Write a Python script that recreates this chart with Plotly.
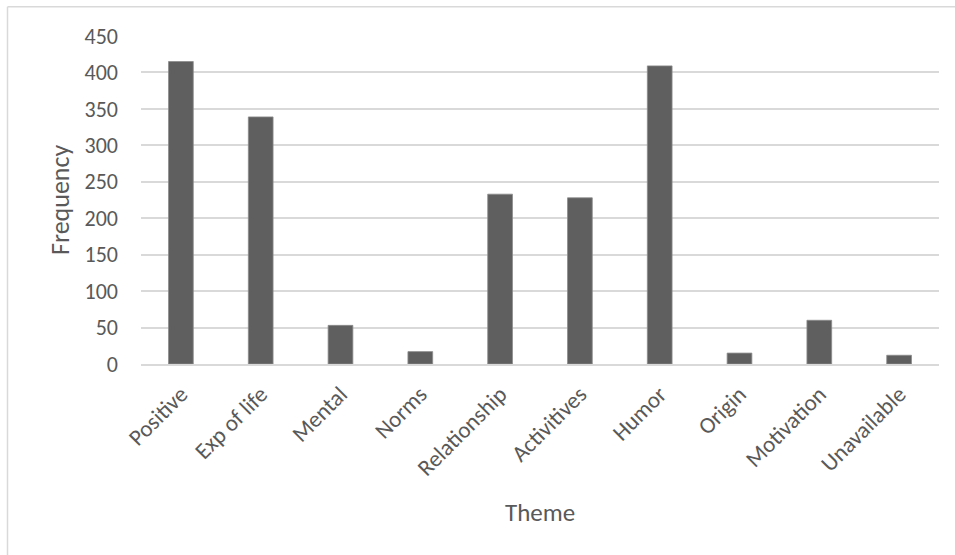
import plotly.graph_objects as go

categories = ["Positive", "Exp of life", "Mental", "Norms", "Relationship",
              "Activitives", "Humor", "Origin", "Motivation", "Unavailable"]
frequency = [415, 339, 53, 17, 233, 228, 409, 15, 60, 12]
y_ticks = [0, 50, 100, 150, 200, 250, 300, 350, 400, 450]

FONT = "Calibri, Carlito, Lato, sans-serif"
TXT = "#595959"
GRID = "#d9d9d9"

W, H = 955, 555
L, R, T, B = 141, 16, 35.7, 190.7
pw, ph = W - L - R, H - T - B

def px(x):
    return (x - L) / pw

def py(y):
    return (H - B - y) / ph

fig = go.Figure(go.Bar(
    x=categories, y=frequency,
    marker=dict(color="#5f5f5f", line=dict(color="#8c8c8c", width=0.8)),
))

fig.update_layout(
    width=W, height=H,
    margin=dict(l=L, r=R, t=T, b=B, autoexpand=False),
    paper_bgcolor="white", plot_bgcolor="white",
    bargap=0.69, showlegend=False,
    font=dict(family=FONT, color=TXT, size=22),
)
fig.update_yaxes(
    range=[0, 450], tickvals=y_ticks, showgrid=True, gridcolor=GRID, gridwidth=1.5,
    zeroline=False, showline=False, ticks="", ticklabelstandoff=22,
    tickfont=dict(family=FONT, color=TXT, size=22),
)
fig.update_xaxes(
    tickangle=-45, showline=True, linecolor=GRID, linewidth=1.5, ticks="",
    ticklabelstandoff=6,
    tickfont=dict(family=FONT, color=TXT, size=23),
)

fig.add_annotation(text="Frequency", xref="paper", yref="paper", x=px(60), y=0.5,
                   textangle=-90, showarrow=False, xanchor="center", yanchor="middle",
                   font=dict(family=FONT, color=TXT, size=26))
fig.add_annotation(text="Theme", xref="paper", yref="paper", x=0.5, y=py(513),
                   showarrow=False, xanchor="center", yanchor="middle",
                   font=dict(family=FONT, color=TXT, size=25))

# outer chart border (top and left edges visible)
fig.add_shape(type="line", xref="paper", yref="paper", x0=px(7.5), x1=px(1000),
              y0=py(6.5), y1=py(6.5), line=dict(color=GRID, width=1.5))
fig.add_shape(type="line", xref="paper", yref="paper", x0=px(7.5), x1=px(7.5),
              y0=py(6.5), y1=py(600), line=dict(color=GRID, width=1.5))

fig.write_html("out.html")
